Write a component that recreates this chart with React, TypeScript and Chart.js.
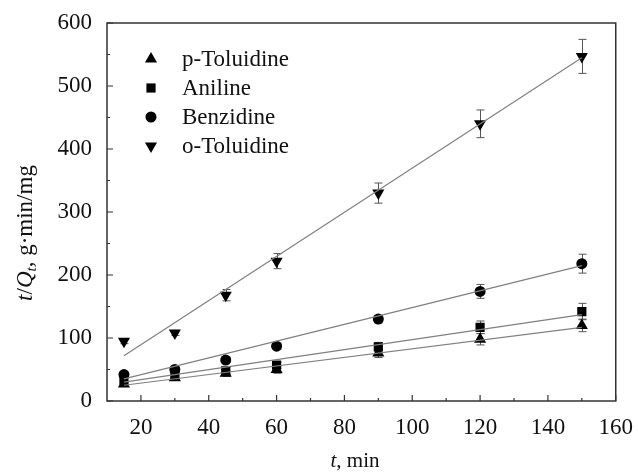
import React, { useEffect, useRef } from 'react';
import { Chart, registerables } from 'chart.js';
Chart.register(...registerables);

const times = [15, 30, 45, 60, 90, 120, 150];
const pTol = [27, 37, 44, 50, 76, 98, 120];
const pTolErr = [4, 4, 5, 6, 7, 9, 10];
const aniline = [33, 42, 48, 57, 86, 117, 142];
const anilineErr = [4, 4, 5, 5, 7, 10, 13];
const benz = [42, 50, 65, 87, 130, 174, 218];
const benzErr = [4, 4, 4, 5, 6, 11, 15];
const oTol = [95, 108, 168, 222, 330, 440, 547];
const oTolErr = [4, 4, 9, 12, 16, 22, 27];

const fitX = [15, 150];
const pTolFit = [25, 117];
const anilineFit = [30, 137];
const benzFit = [35, 215];
const oTolFit = [72, 545];

const seriesNames = ['p-Toluidine', 'Aniline', 'Benzidine', 'o-Toluidine'];
const xTicks = [20, 40, 60, 80, 100, 120, 140, 160];
const xMinor = [30, 50, 70, 90, 110, 130, 150];
const yTicks = [0, 100, 200, 300, 400, 500, 600];
const yMinor = [50, 150, 250, 350, 450, 550];

const FONT = '"Liberation Serif", "Times New Roman", serif';

const pts = (ys: number[]) => times.map((x, i) => ({ x, y: ys[i] }));
const fitPts = (ys: number[]) => fitX.map((x, i) => ({ x, y: ys[i] }));

export default function App() {
  const ref = useRef<HTMLCanvasElement>(null);
  useEffect(() => {
    if (!ref.current) return;
    const markerDefs = [
      { style: 'triangle', rot: 0, r: 7 },
      { style: 'rect', rot: 0, r: 6.5 },
      { style: 'circle', rot: 0, r: 5.5 },
      { style: 'triangle', rot: 180, r: 7 },
    ];
    const values = [pTol, aniline, benz, oTol];
    const errs = [pTolErr, anilineErr, benzErr, oTolErr];
    const fits = [pTolFit, anilineFit, benzFit, oTolFit];

    const datasets: any[] = [];
    fits.forEach((f, i) => {
      datasets.push({
        type: 'line',
        label: 'fit ' + seriesNames[i],
        data: fitPts(f),
        borderColor: '#808080',
        borderWidth: 1.2,
        pointRadius: 0,
        fill: false,
        isFit: true,
      });
    });
    values.forEach((v, i) => {
      datasets.push({
        type: 'scatter',
        label: seriesNames[i],
        data: pts(v),
        errors: errs[i],
        pointStyle: markerDefs[i].style,
        rotation: markerDefs[i].rot,
        pointRadius: markerDefs[i].r,
        backgroundColor: '#000',
        borderColor: '#000',
        borderWidth: 0,
        showLine: false,
      });
    });

    function drawMarker(ctx: any, style: string, rot: number, r: number, x: number, y: number) {
      ctx.save();
      ctx.fillStyle = '#000';
      ctx.beginPath();
      if (style === 'circle') {
        ctx.arc(x, y, r, 0, Math.PI * 2);
      } else if (style === 'rect') {
        const s = Math.SQRT1_2 * r;
        ctx.rect(x - s, y - s, 2 * s, 2 * s);
      } else {
        const sgn = rot === 180 ? -1 : 1;
        const h = r * 1.5;
        const half = r * Math.sin(Math.PI / 3);
        ctx.moveTo(x, y - sgn * r);
        ctx.lineTo(x + half, y + sgn * (h - r));
        ctx.lineTo(x - half, y + sgn * (h - r));
        ctx.closePath();
      }
      ctx.fill();
      ctx.restore();
    }

    const custom = {
      id: 'custom',
      beforeDatasetsDraw(chart: any) {
        const ctx = chart.ctx;
        const xs = chart.scales.x;
        const ys = chart.scales.y;
        ctx.save();
        ctx.strokeStyle = '#555';
        ctx.lineWidth = 1;
        chart.data.datasets.forEach((ds: any) => {
          if (!ds.errors) return;
          ds.data.forEach((p: any, i: number) => {
            const e = ds.errors[i];
            const px = Math.round(xs.getPixelForValue(p.x)) + 0.5;
            const yt = ys.getPixelForValue(p.y + e);
            const yb = ys.getPixelForValue(p.y - e);
            ctx.beginPath();
            ctx.moveTo(px, yt);
            ctx.lineTo(px, yb);
            ctx.moveTo(px - 4, yt);
            ctx.lineTo(px + 4, yt);
            ctx.moveTo(px - 4, yb);
            ctx.lineTo(px + 4, yb);
            ctx.stroke();
          });
        });
        ctx.restore();
      },
      afterDraw(chart: any) {
        const ctx = chart.ctx;
        const a = chart.chartArea;
        const xs = chart.scales.x;
        const ys = chart.scales.y;
        ctx.save();
        ctx.strokeStyle = '#333';
        ctx.lineWidth = 1.5;
        ctx.strokeRect(a.left, a.top, a.right - a.left, a.bottom - a.top);
        ctx.lineWidth = 1.2;
        ctx.beginPath();
        xTicks.forEach((v) => {
          const px = xs.getPixelForValue(v);
          ctx.moveTo(px, a.bottom);
          ctx.lineTo(px, a.bottom - 6);
        });
        xMinor.forEach((v) => {
          const px = xs.getPixelForValue(v);
          ctx.moveTo(px, a.bottom);
          ctx.lineTo(px, a.bottom - 3);
        });
        yTicks.forEach((v) => {
          const py = ys.getPixelForValue(v);
          ctx.moveTo(a.left, py);
          ctx.lineTo(a.left + 6, py);
        });
        yMinor.forEach((v) => {
          const py = ys.getPixelForValue(v);
          ctx.moveTo(a.left, py);
          ctx.lineTo(a.left + 3, py);
        });
        ctx.stroke();

        // legend
        ctx.font = '23px ' + FONT;
        ctx.textBaseline = 'middle';
        const scatterSets = chart.data.datasets.filter((d: any) => !d.isFit);
        scatterSets.forEach((d: any, i: number) => {
          const y = 59 + i * 29;
          const m = markerDefs[i];
          drawMarker(ctx, m.style, m.rot, m.r, 151, y);
          ctx.fillStyle = '#111';
          ctx.fillText(d.label, 182, y + 1);
        });

        // x title
        ctx.fillStyle = '#111';
        ctx.textBaseline = 'middle';
        const xParts = [
          { t: 't', f: 'italic 21px ' + FONT },
          { t: ', min', f: '21px ' + FONT },
        ];
        let w = 0;
        xParts.forEach((p) => { ctx.font = p.f; w += ctx.measureText(p.t).width; });
        let cx = 355 - w / 2;
        xParts.forEach((p) => { ctx.font = p.f; ctx.fillText(p.t, cx, 461); cx += ctx.measureText(p.t).width; });

        // y title
        ctx.save();
        ctx.translate(26, 233);
        ctx.rotate(-Math.PI / 2);
        const yParts = [
          { t: 't', f: 'italic 23px ' + FONT, dy: 0 },
          { t: '/', f: '23px ' + FONT, dy: 0 },
          { t: 'Q', f: 'italic 23px ' + FONT, dy: 0 },
          { t: 't', f: 'italic 15px ' + FONT, dy: 6 },
          { t: ', g·min/mg', f: '23px ' + FONT, dy: 0 },
        ];
        w = 0;
        yParts.forEach((p) => { ctx.font = p.f; w += ctx.measureText(p.t).width; });
        cx = -w / 2;
        yParts.forEach((p) => { ctx.font = p.f; ctx.fillText(p.t, cx, p.dy); cx += ctx.measureText(p.t).width; });
        ctx.restore();
        ctx.restore();
      },
    };

    const chart = new Chart(ref.current, {
      type: 'scatter',
      data: { datasets },
      options: {
        animation: false,
        responsive: false,
        layout: { padding: { top: 23, right: 17, left: 0, bottom: 0 } },
        plugins: { legend: { display: false }, tooltip: { enabled: false } },
        scales: {
          x: {
            type: 'linear',
            min: 10,
            max: 160,
            grid: { display: false },
            border: { display: false },
            afterBuildTicks: (s: any) => { s.ticks = xTicks.map((v) => ({ value: v })); },
            afterFit: (s: any) => { s.height = 71; },
            ticks: { padding: 5, color: '#111', font: { family: FONT, size: 23 }, maxRotation: 0 },
          },
          y: {
            type: 'linear',
            min: 0,
            max: 600,
            grid: { display: false },
            border: { display: false },
            afterBuildTicks: (s: any) => { s.ticks = yTicks.map((v) => ({ value: v })); },
            afterFit: (s: any) => { s.width = 107; },
            ticks: { padding: 7, color: '#111', font: { family: FONT, size: 23 } },
          },
        },
      } as any,
      plugins: [custom],
    });
    return () => chart.destroy();
  }, []);
  return (
    <div style={{ position: 'absolute', left: 0, top: 0, width: 638, height: 472, background: '#fff' }}>
      <canvas ref={ref} width={638} height={472} style={{ display: 'block' }} />
    </div>
  );
}
